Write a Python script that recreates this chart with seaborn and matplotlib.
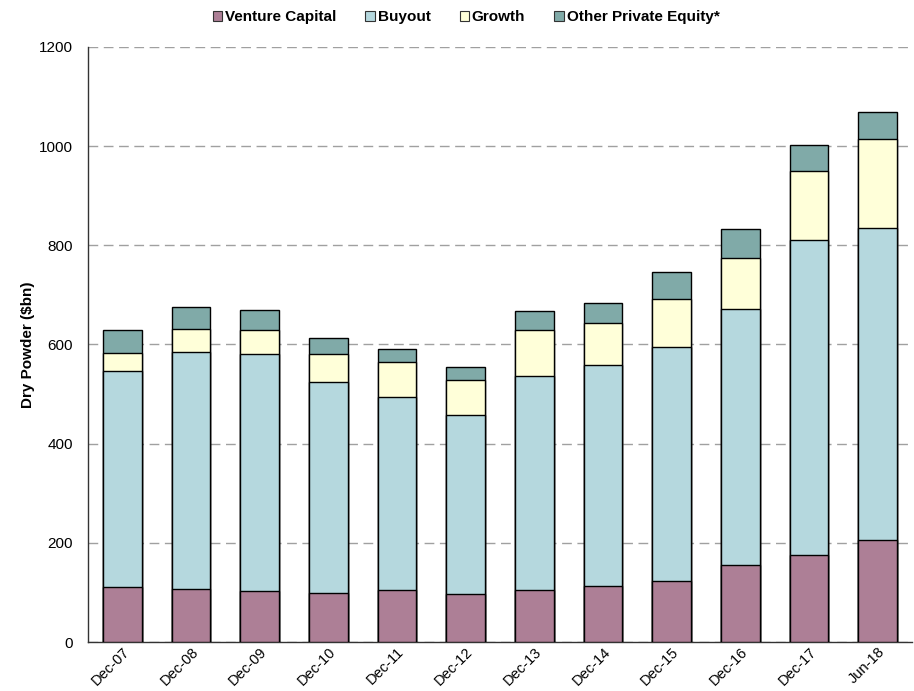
import matplotlib
matplotlib.use("Agg")
import matplotlib.pyplot as plt
from matplotlib.patches import Patch
import numpy as np
import seaborn as sns

periods = ["Dec-07", "Dec-08", "Dec-09", "Dec-10", "Dec-11", "Dec-12",
           "Dec-13", "Dec-14", "Dec-15", "Dec-16", "Dec-17", "Jun-18"]
venture_capital = [110, 107, 103, 99, 105, 97, 104, 112, 123, 156, 176, 206]
buyout = [436, 478, 477, 425, 389, 360, 432, 446, 472, 515, 635, 628]
growth = [36, 47, 50, 56, 71, 71, 93, 85, 96, 104, 138, 181]
other_pe = [48, 44, 39, 33, 26, 26, 39, 40, 55, 58, 54, 53]

series_names = ["Venture Capital", "Buyout", "Growth", "Other Private Equity*"]
series_values = [venture_capital, buyout, growth, other_pe]
series_colors = ["#AD7F96", "#B5D8DE", "#FFFFD9", "#80AAA8"]
y_ticks = [0, 200, 400, 600, 800, 1000, 1200]

sns.set_theme(style="white")
plt.rcParams["font.family"] = ["Liberation Sans", "DejaVu Sans"]
plt.rcParams["text.color"] = "black"
plt.rcParams["axes.labelcolor"] = "black"

fig = plt.figure(figsize=(9.14, 6.91), dpi=100)
ax = fig.add_axes([0.0963, 0.0709, 0.9015, 0.8611])

# Stacked bars: draw cumulative totals from the top layer down
cumulative = np.cumsum(np.array(series_values), axis=0)
for level in range(len(series_values) - 1, -1, -1):
    sns.barplot(x=periods, y=cumulative[level], color=series_colors[level],
                edgecolor="black", linewidth=1.0, width=0.56,
                saturation=1, ax=ax, zorder=3)

ax.set_xlim(-0.5, len(periods) - 0.5)
ax.set_ylim(0, 1200)
ax.set_yticks(y_ticks)
ax.set_yticklabels([str(t) for t in y_ticks], fontsize=11, color="black")
ax.yaxis.grid(True, color="#A0A0A0", linestyle=(0, (7, 4)), linewidth=1.0, zorder=0)
ax.xaxis.grid(False)
ax.tick_params(axis="y", length=0, pad=11)
ax.tick_params(axis="x", length=0, pad=2)
ax.set_xticks(range(len(periods)))
ax.set_xticklabels(periods, rotation=45, ha="right", rotation_mode="anchor",
                   fontsize=10.5, color="black")
ax.set_xlabel("")
ax.set_ylabel("Dry Powder ($bn)", fontsize=11, fontweight="bold", color="black")
ax.yaxis.set_label_coords(-0.064, 0.5)

for side in ["top", "right"]:
    ax.spines[side].set_visible(False)
for side in ["left", "bottom"]:
    ax.spines[side].set_color("#333333")
    ax.spines[side].set_linewidth(1.0)
ax.set_axisbelow(True)

handles = [Patch(facecolor=c, edgecolor="#333333", linewidth=0.8) for c in series_colors]
fig.legend(handles, series_names, loc="center", bbox_to_anchor=(0.51, 0.975),
           ncol=4, frameon=False, handlelength=0.6, handleheight=0.6,
           handletextpad=0.2, columnspacing=1.9,
           prop={"weight": "bold", "size": 11}, labelcolor="black")

fig.savefig("out.png", dpi=100)
